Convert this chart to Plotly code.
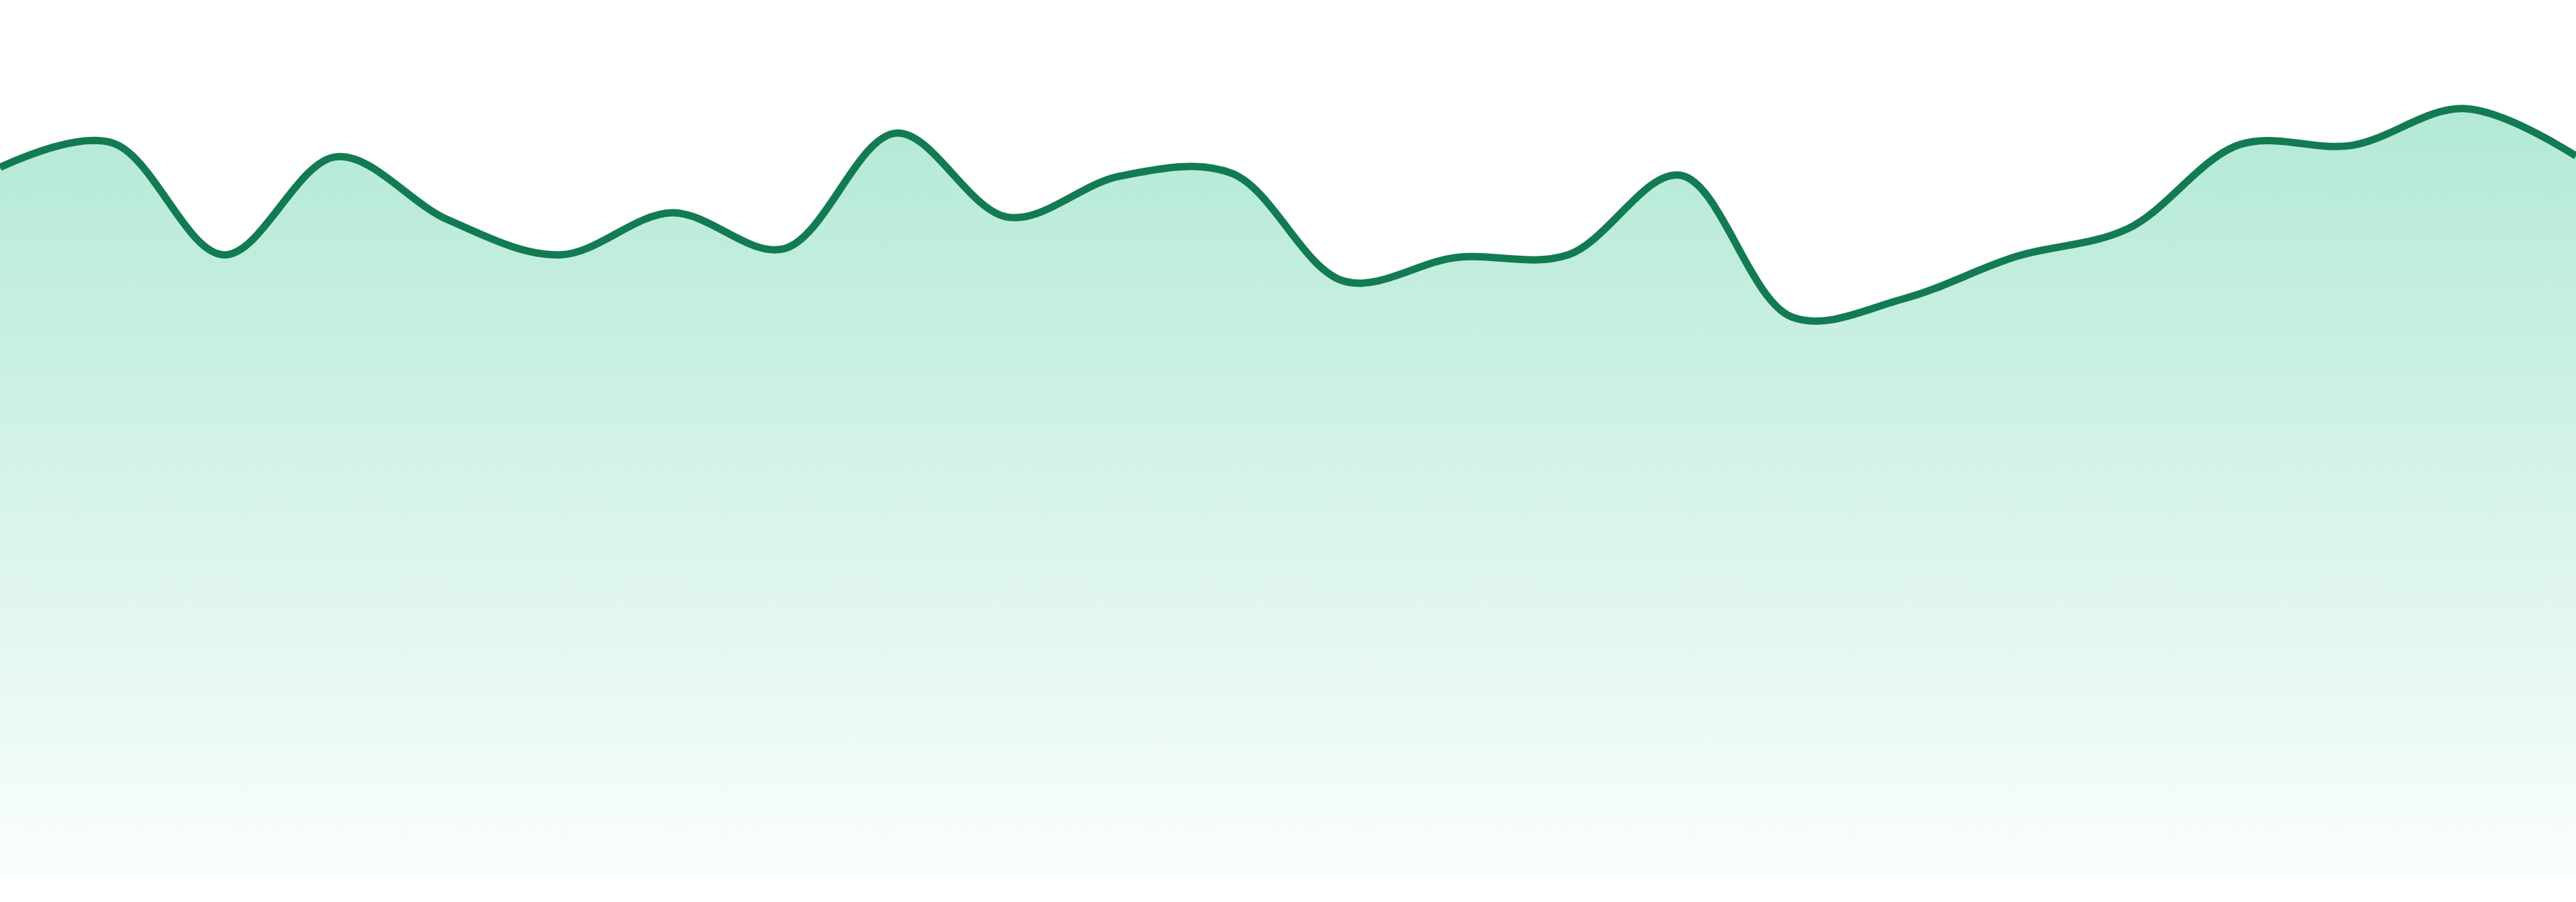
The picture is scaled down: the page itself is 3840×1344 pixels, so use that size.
import plotly.graph_objects as go

# values (24 evenly spaced samples)
periods = list(range(24))
values = [
    80.9, 83.7, 70.9, 82.1, 74.9, 70.9, 75.7, 71.6,
    84.8, 75.2, 79.9, 80.2, 67.9, 70.6, 70.9, 80.0,
    63.8, 65.9, 70.7, 73.9, 83.5, 83.4, 87.6, 82.2,
]

line_color = "#127b52"

fig = go.Figure()
fig.add_trace(
    go.Scatter(
        x=periods,
        y=values,
        mode="lines",
        line=dict(color=line_color, width=11, shape="spline", smoothing=1.0),
        fill="tozeroy",
        fillgradient=dict(
            type="vertical",
            colorscale=[
                [0, "rgba(16,185,129,0.02)"],
                [1, "rgba(16,185,129,0.32)"],
            ],
        ),
        hoverinfo="skip",
        showlegend=False,
    )
)

fig.update_layout(
    width=3840,
    height=1344,
    margin=dict(l=0, r=0, t=0, b=39),
    paper_bgcolor="white",
    plot_bgcolor="white",
    modebar=dict(
        bgcolor="rgba(0,0,0,0)",
        color="rgba(0,0,0,0)",
        activecolor="rgba(0,0,0,0)",
    ),
)
fig.update_xaxes(range=[0, 23], visible=False, showgrid=False, zeroline=False)
fig.update_yaxes(range=[0, 100], visible=False, showgrid=False, zeroline=False)

# drop the default body margin so the figure sits flush in the window
fig.write_html(
    "out.html",
    config={"displaylogo": False},
    post_script="document.body.style.margin='0';",
)
